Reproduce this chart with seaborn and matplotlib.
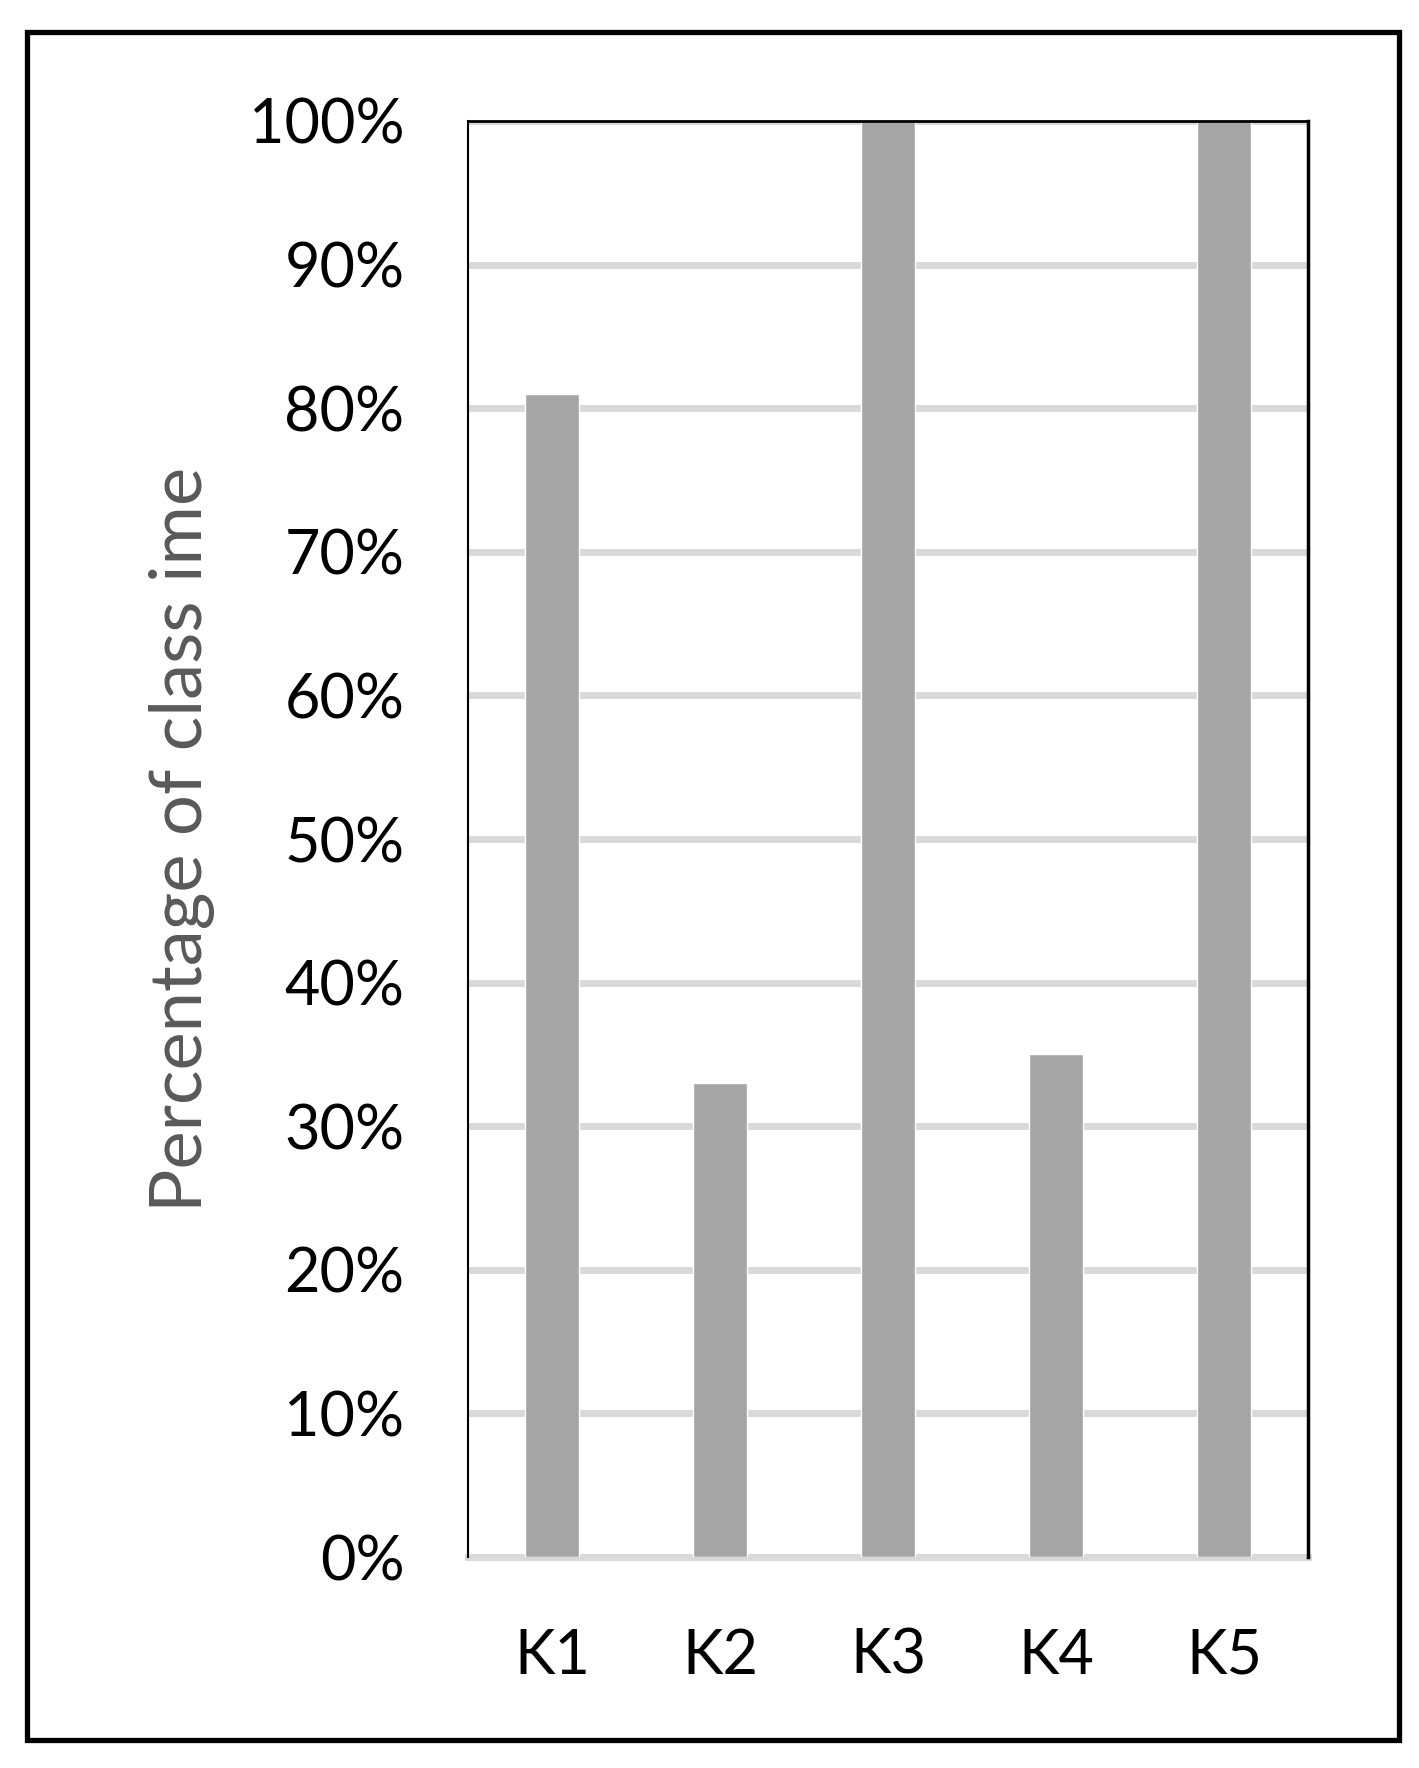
import numpy as np
import pandas as pd
import seaborn as sns
import matplotlib.pyplot as plt
from matplotlib.patches import Rectangle
from matplotlib.ticker import PercentFormatter

# data
groups = ['K1', 'K2', 'K3', 'K4', 'K5']
share = [0.81, 0.33, 1.00, 0.35, 1.00]
yticks = np.arange(0, 1.01, 0.1)

df = pd.DataFrame({'group': groups, 'share': share})

sns.set_style('white')
plt.rcParams['font.family'] = ['Lato', 'DejaVu Sans']

fig = plt.figure(figsize=(14.19, 17.68), dpi=100)
ax = fig.add_axes([0.330, 0.1193, 0.592, 0.8123])

sns.barplot(data=df, x='group', y='share', color='#A5A5A5', saturation=1,
            width=0.32, ax=ax, zorder=3)

ax.set_ylim(0, 1)
ax.set_yticks(yticks)
ax.yaxis.set_major_formatter(PercentFormatter(1.0, decimals=0))
ax.grid(axis='y', color='#D9D9D9', linewidth=5, zorder=0)
ax.set_axisbelow(True)

ax.tick_params(axis='both', length=0, labelsize=44, colors='black')
ax.tick_params(axis='y', pad=46)
ax.tick_params(axis='x', pad=51)
ax.set_xlabel('')
ax.set_ylabel('Percentage of class ime', fontsize=52, color='#595959', labelpad=24)

for side in ['left', 'right', 'top']:
    ax.spines[side].set_color('black')
    ax.spines[side].set_zorder(4)
ax.spines['left'].set_linewidth(1.5)
ax.spines['right'].set_linewidth(2.5)
ax.spines['top'].set_linewidth(2)
ax.spines['bottom'].set_color('#D9D9D9')
ax.spines['bottom'].set_linewidth(5)

# outer frame
fig.patches.append(Rectangle((0.019, 0.016), 0.967, 0.966, transform=fig.transFigure,
                             fill=False, edgecolor='black', linewidth=3.8))

fig.savefig('out.png', dpi=100, facecolor='white')
